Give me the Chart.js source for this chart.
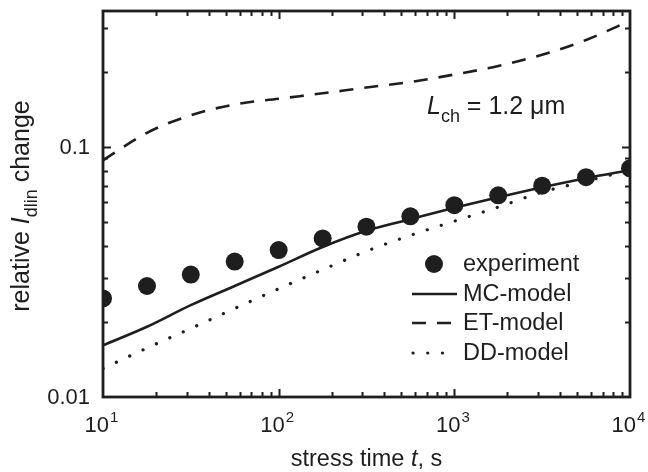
<!DOCTYPE html>
<html>
<head>
<meta charset="utf-8">
<script src="https://cdn.jsdelivr.net/npm/chart.js@4.4.0/dist/chart.umd.min.js"></script>
<style>
html, body { margin: 0; padding: 0; background: #fff; }
#wrap { width: 648px; height: 472px; }
</style>
</head>
<body>
<div id="wrap"><canvas id="stressChart" width="648" height="472"></canvas></div>
<script>
// stress time, s (quarter-decade steps)
var stressTime = [10, 17.8, 31.6, 56.2, 100, 178, 316, 562, 1000, 1778, 3162, 5623, 10000];
// relative Idlin change
var experiment = [0.0248, 0.0278, 0.0309, 0.0348, 0.0387, 0.0431, 0.048, 0.0528, 0.0585, 0.0641, 0.0700, 0.0757, 0.0822];
var mcModel    = [0.0161, 0.0191, 0.0233, 0.0278, 0.0332, 0.0398, 0.0462, 0.0514, 0.0571, 0.0630, 0.0690, 0.0750, 0.0808];
var etModel    = [0.0885, 0.114, 0.134, 0.148, 0.156, 0.164, 0.173, 0.182, 0.195, 0.211, 0.234, 0.268, 0.320];
var ddModel    = [0.0130, 0.0157, 0.0188, 0.0226, 0.0271, 0.0323, 0.0383, 0.0443, 0.0505, 0.0575, 0.0660, 0.0730, 0.0807];

var xTickExps = [1, 2, 3, 4];
var yTickValues = [0.01, 0.1];
var yTickLabels = ["0.01", "0.1"];
var legendNames = ["experiment", "MC-model", "ET-model", "DD-model"];

var INK = "#1e1e1e";
var FONT = "'Liberation Sans', Arial, sans-serif";
var DASH_ET = [14, 11];
var DASH_DD = [0.1, 14.6];

function pts(vals) {
    return stressTime.map(function (t, i) { return { x: t, y: vals[i] }; });
}

// text made of runs: {t, it, sub}
function runsWidth(ctx, runs, size) {
    var w = 0;
    runs.forEach(function (r) {
        var fs = r.sub ? size * 0.72 : size;
        ctx.font = (r.it ? "italic " : "") + fs + "px " + FONT;
        w += ctx.measureText(r.t).width;
    });
    return w;
}
function drawRuns(ctx, runs, x, y, size) {
    var cx = x;
    runs.forEach(function (r) {
        var fs = r.sub ? size * 0.72 : size;
        ctx.font = (r.it ? "italic " : "") + fs + "px " + FONT;
        ctx.fillText(r.t, cx, r.sub ? y + size * 0.3 : y);
        cx += ctx.measureText(r.t).width;
    });
}

var frameAndText = {
    id: "frameAndText",
    afterDraw: function (chart) {
        var ctx = chart.ctx, a = chart.chartArea;
        var xs = chart.scales.x, ys = chart.scales.y;
        ctx.save();
        ctx.strokeStyle = INK;
        ctx.fillStyle = INK;

        // inward ticks on all four sides
        ctx.lineWidth = 2;
        ctx.beginPath();
        for (var d = 1; d <= 3; d++) {
            for (var m = 1; m <= 9; m++) {
                var v = m * Math.pow(10, d);
                if (v <= 10 || v >= 10000) continue;
                var px = Math.round(xs.getPixelForValue(v)) + 0.5;
                var len = m === 1 ? 8 : 5;
                ctx.moveTo(px, a.bottom); ctx.lineTo(px, a.bottom - len);
                ctx.moveTo(px, a.top); ctx.lineTo(px, a.top + len);
            }
        }
        for (var e = -2; e <= -1; e++) {
            for (var k = 1; k <= 9; k++) {
                var yv = k * Math.pow(10, e);
                if (yv <= 0.01 || yv >= 0.35) continue;
                var py = Math.round(ys.getPixelForValue(yv)) + 0.5;
                var ln = k === 1 ? 8 : 5;
                ctx.moveTo(a.left, py); ctx.lineTo(a.left + ln, py);
                ctx.moveTo(a.right, py); ctx.lineTo(a.right - ln, py);
            }
        }
        ctx.stroke();

        // frame
        ctx.lineWidth = 2.8;
        ctx.strokeRect(a.left, a.top, a.right - a.left, a.bottom - a.top);

        // y tick labels
        ctx.font = "22px " + FONT;
        ctx.textAlign = "right";
        ctx.textBaseline = "middle";
        yTickValues.forEach(function (v, i) {
            ctx.fillText(yTickLabels[i], a.left - 13, ys.getPixelForValue(v) + 1);
        });

        // x tick labels 10^n
        ctx.textAlign = "left";
        ctx.textBaseline = "alphabetic";
        xTickExps.forEach(function (n) {
            var px = xs.getPixelForValue(Math.pow(10, n));
            ctx.font = "22px " + FONT;
            var wb = ctx.measureText("10").width;
            ctx.font = "15px " + FONT;
            var we = ctx.measureText(String(n)).width;
            var x0 = px - (wb + we) / 2 - 2;
            ctx.font = "22px " + FONT;
            ctx.fillText("10", x0, 432);
            ctx.font = "15px " + FONT;
            ctx.fillText(String(n), x0 + wb + 1, 422);
        });

        // x axis title
        var xt = [{ t: "stress time " }, { t: "t", it: true }, { t: ", s" }];
        var xw = runsWidth(ctx, xt, 23.5);
        drawRuns(ctx, xt, (a.left + a.right) / 2 - xw / 2, 466, 23.5);

        // y axis title
        var yt = [{ t: "relative " }, { t: "I", it: true }, { t: "dlin", sub: true }, { t: " change" }];
        var yw = runsWidth(ctx, yt, 25);
        ctx.save();
        ctx.translate(29, (a.top + a.bottom) / 2 + 2);
        ctx.rotate(-Math.PI / 2);
        drawRuns(ctx, yt, -yw / 2, 0, 25);
        ctx.restore();

        // channel length note
        var nt = [{ t: "L", it: true }, { t: "ch", sub: true }, { t: " = 1.2 \u03bcm" }];
        drawRuns(ctx, nt, 427, 114, 25);

        // legend
        var lx0 = 412, lx1 = 457, tx = 463, rowY = [264, 294, 323, 353];
        ctx.font = "23.5px " + FONT;
        ctx.textBaseline = "middle";
        legendNames.forEach(function (name, i) {
            ctx.fillText(name, tx, rowY[i] + 1);
        });
        ctx.beginPath();
        ctx.arc(434, rowY[0], 9, 0, Math.PI * 2);
        ctx.fill();
        ctx.lineWidth = 2.6;
        ctx.lineCap = "butt";
        ctx.setLineDash([]);
        ctx.beginPath(); ctx.moveTo(lx0, rowY[1]); ctx.lineTo(lx1, rowY[1]); ctx.stroke();
        ctx.setLineDash(DASH_ET);
        ctx.beginPath(); ctx.moveTo(lx0, rowY[2]); ctx.lineTo(lx1 - 2, rowY[2]); ctx.stroke();
        ctx.lineWidth = 3.2;
        ctx.lineCap = "round";
        ctx.setLineDash(DASH_DD);
        ctx.beginPath(); ctx.moveTo(lx0 + 1, rowY[3]); ctx.lineTo(lx1, rowY[3]); ctx.stroke();
        ctx.restore();
    }
};

var chart = new Chart(document.getElementById("stressChart").getContext("2d"), {
    type: "scatter",
    data: {
        datasets: [
            {
                label: legendNames[0],
                data: pts(experiment),
                showLine: false,
                pointRadius: 9,
                pointBorderWidth: 0,
                pointBackgroundColor: INK,
                clip: 0
            },
            {
                label: legendNames[1],
                data: pts(mcModel),
                showLine: true,
                borderColor: INK,
                borderWidth: 2.6,
                pointRadius: 0,
                cubicInterpolationMode: "monotone",
                clip: 0
            },
            {
                label: legendNames[2],
                data: pts(etModel),
                showLine: true,
                borderColor: INK,
                borderWidth: 2.6,
                borderDash: DASH_ET,
                pointRadius: 0,
                cubicInterpolationMode: "monotone",
                clip: 0
            },
            {
                label: legendNames[3],
                data: pts(ddModel),
                showLine: true,
                borderColor: INK,
                borderWidth: 3.2,
                borderDash: DASH_DD,
                borderCapStyle: "round",
                pointRadius: 0,
                cubicInterpolationMode: "monotone",
                clip: 0
            }
        ]
    },
    options: {
        responsive: false,
        animation: false,
        devicePixelRatio: 1,
        events: [],
        layout: { padding: { left: 0, right: 18, top: 11, bottom: 0 } },
        plugins: { legend: { display: false }, tooltip: { enabled: false } },
        scales: {
            x: {
                type: "logarithmic",
                min: 10,
                max: 10000,
                grid: { display: false },
                border: { display: false },
                ticks: { display: false },
                afterFit: function (s) { s.height = 75; }
            },
            y: {
                type: "logarithmic",
                min: 0.01,
                max: 0.35,
                grid: { display: false },
                border: { display: false },
                ticks: { display: false },
                afterFit: function (s) { s.width = 103; }
            }
        }
    },
    plugins: [frameAndText]
});
</script>
</body>
</html>
